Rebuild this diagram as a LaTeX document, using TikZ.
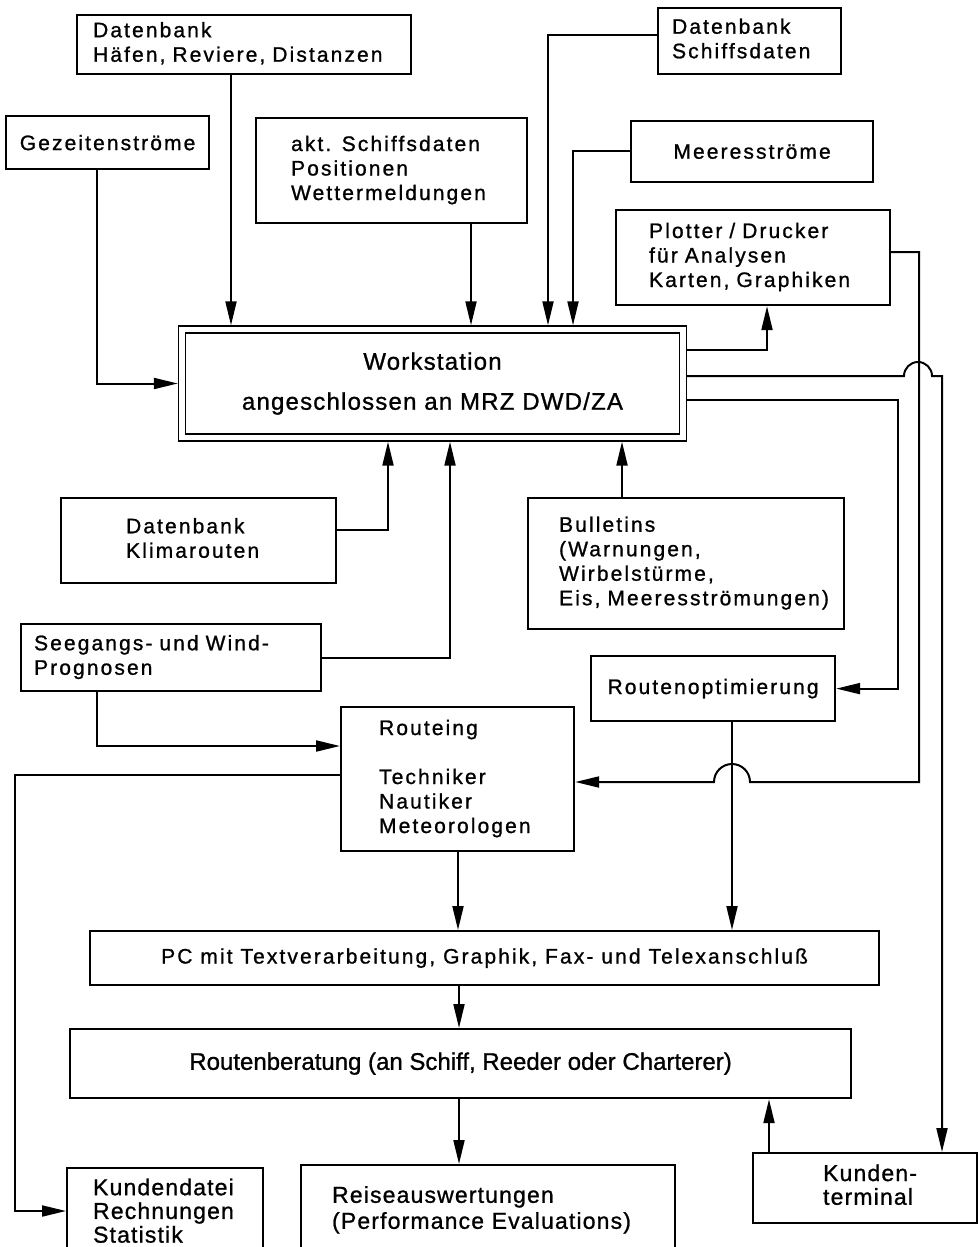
\documentclass[tikz,border=0pt]{standalone}
\usepackage{fontspec}
\setmainfont{Liberation Sans}[FakeBold=1]
\newfontfamily\sperr[LetterSpace=10,FakeBold=1]{Liberation Sans}
\newfontfamily\locker[LetterSpace=5,FakeBold=1]{Liberation Sans}
\usetikzlibrary{arrows.meta}
\newcommand{\spalte}[1]{\begin{tabular}{@{}l@{}}#1\end{tabular}}
\begin{document}
\begin{tikzpicture}[x=0.5pt,y=-0.5pt,
  kasten/.style={draw,line width=1.1pt,anchor=north west,inner ysep=0pt,
    font=\sperr\fontsize{10.5}{12.25}\selectfont},
  links/.style={kasten,align=left},
  mitte/.style={kasten,align=center,inner xsep=0pt},
  unten/.style={links,font=\locker\fontsize{11.5}{11.75}\selectfont},
  pfeil/.style={line width=1pt,-{Triangle[length=12pt,width=5.5pt]}}]
\useasboundingbox (0,0) rectangle (979,1247);

% Quellen oben
\node[links,text width=151pt,inner xsep=8pt,minimum height=29.5pt] (haefen) at (76,14)
  {\spalte{Datenbank\\Häfen, Reviere, Distanzen}};
\node[mitte,minimum width=101.5pt,minimum height=26.5pt] (gez) at (5,115) {Gezeitenströme};
\node[links,text width=100.5pt,inner xsep=17.5pt,minimum height=52.5pt] (aktuell) at (255,117)
  {\spalte{akt. Schiffsdaten\\Positionen\\Wettermeldungen}};
\node[links,text width=77.5pt,inner xsep=7pt,minimum height=33pt] (schiffsdb) at (657,7)
  {\spalte{Datenbank\\Schiffsdaten}};
\node[mitte,minimum width=121pt,minimum height=30.5pt] (meeres) at (630,120) {Meeresströme};
\node[links,text width=104pt,inner xsep=16.5pt,minimum height=47.5pt] (plotter) at (615,209)
  {\spalte{Plotter / Drucker\\für Analysen\\Karten, Graphiken}};

% Workstation
\node[draw,double,line width=0.8pt,double distance=2.6pt,outer sep=2.1pt,
  minimum width=250.5pt,minimum height=54pt,align=center,
  font=\locker\fontsize{12}{14}\selectfont] (ws) at (432.5,383.5)
  {Workstation\\[6pt]angeschlossen an MRZ DWD/ZA};

% mittlere Reihe
\node[links,text width=72.5pt,inner xsep=32.5pt,minimum height=42.5pt] (klima) at (60,497)
  {\spalte{Datenbank\\Klimarouten}};
\node[links,text width=137pt,inner xsep=6.5pt,minimum height=33.5pt] (seegang) at (20,623)
  {\spalte{Seegangs- und Wind-\\Prognosen}};
\node[links,text width=127pt,inner xsep=15.5pt,minimum height=65.5pt] (bulletins) at (527,497)
  {\spalte{Bulletins\\(Warnungen,\\Wirbelstürme,\\Eis, Meeresströmungen)}};
\node[mitte,minimum width=122pt,minimum height=32.5pt] (routopt) at (590,655) {Routenoptimierung};
\node[links,text width=78.5pt,inner xsep=19pt,minimum height=72pt] (routeing) at (340,706)
  {\spalte{Routeing\\ \\Techniker\\Nautiker\\Meteorologen}};

% Ausgabe unten
\node[mitte,minimum width=394.5pt,minimum height=27pt] (pc) at (89,930)
  {PC mit Textverarbeitung, Graphik, Fax- und Telexanschluß};
\node[mitte,minimum width=390.5pt,minimum height=34.5pt,font=\fontsize{12}{14}\selectfont] (beratung) at (69,1028)
  {Routenberatung (an Schiff, Reeder oder Charterer)};
\node[unten,text width=72pt,inner xsep=13pt,minimum height=46pt] (kdatei) at (66,1167)
  {\spalte{Kundendatei\\Rechnungen\\Statistik}};
\node[unten,text width=156pt,inner xsep=15.5pt,minimum height=45.5pt,
  font=\locker\fontsize{11.5}{13}\selectfont] (reise) at (300,1164)
  {\spalte{Reiseauswertungen\\(Performance Evaluations)}};
\node[unten,text width=42pt,inner xsep=35pt,minimum height=35pt] (terminal) at (752,1152)
  {\spalte{Kunden-\\terminal}};

% Verbindungen zur Workstation
\draw[pfeil] (231,0 |- haefen.south) -- (231,0 |- ws.north);
\draw[pfeil] (97,0 |- gez.south) |- (ws.west);
\draw[pfeil] (471,0 |- aktuell.south) -- (471,0 |- ws.north);
\draw[pfeil] (schiffsdb.west |- 0,35) -| (548,0 |- ws.north);
\draw[pfeil] (meeres.west |- 0,151) -| (573,0 |- ws.north);
\draw[pfeil] (klima.east |- 0,530) -| (388,0 |- ws.south);
\draw[pfeil] (seegang.east) -| (450,0 |- ws.south);
\draw[pfeil] (622,0 |- bulletins.north) -- (622,0 |- ws.south);

% von der Workstation weg
\draw[pfeil] (ws.east |- 0,350) -| (767,0 |- plotter.south);
\draw[pfeil] (ws.east |- 0,376) -- (904,376) arc[start angle=180,end angle=360,radius=14]
  -- (942,376) -- (942,0 |- terminal.north);
\draw[pfeil] (ws.east |- 0,400) -| (898,0 |- routopt.east) -- (routopt.east);
\draw[pfeil] (plotter.east |- 0,252) -| (919,782) -- (750,782)
  arc[start angle=0,end angle=-180,radius=18] -- (routeing.east |- 0,782);

% Routeing und Ausgabe
\draw[pfeil] (97,0 |- seegang.south) |- (routeing.west |- 0,746);
\draw[pfeil] (routeing.west |- 0,775) -| (15,1211) -- (kdatei.west |- 0,1211);
\draw[pfeil] (732,0 |- routopt.south) -- (732,0 |- pc.north);
\draw[pfeil] (458,0 |- routeing.south) -- (458,0 |- pc.north);
\draw[pfeil] (459,0 |- pc.south) -- (459,0 |- beratung.north);
\draw[pfeil] (459,0 |- beratung.south) -- (459,0 |- reise.north);
\draw[pfeil] (769,0 |- terminal.north) -- (769,0 |- beratung.south);
\end{tikzpicture}
\end{document}
